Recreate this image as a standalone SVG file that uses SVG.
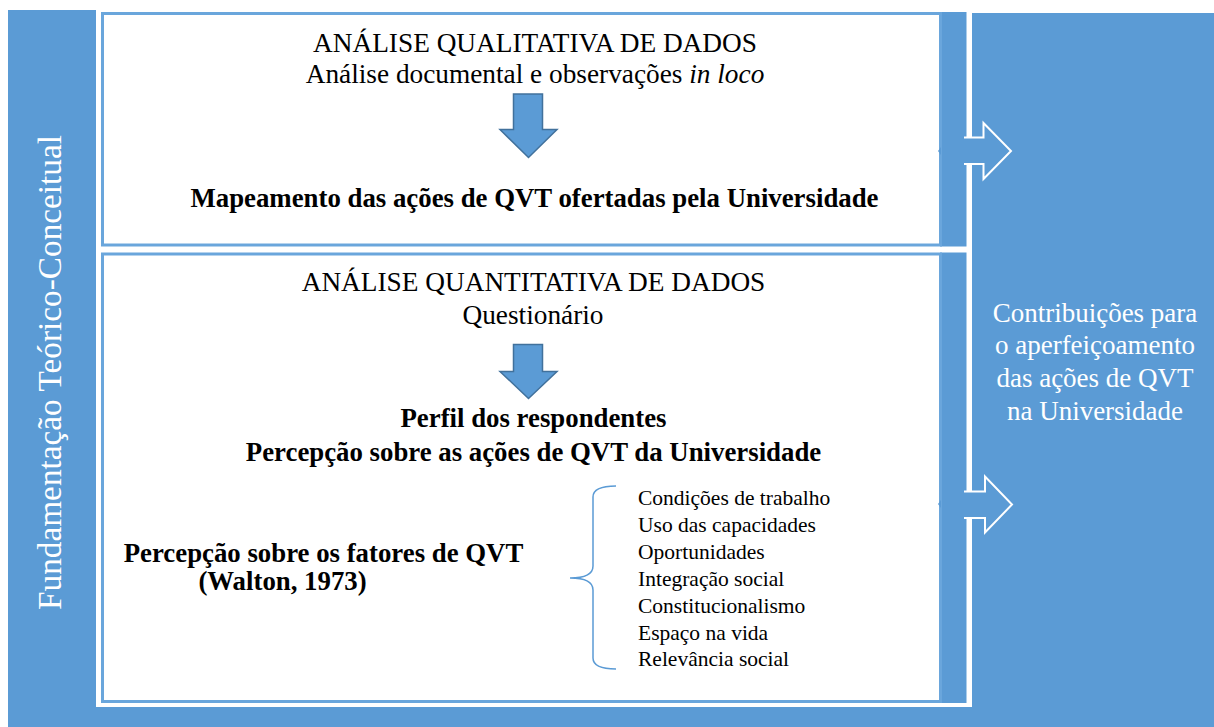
<svg xmlns="http://www.w3.org/2000/svg" width="1214" height="727" viewBox="0 0 1214 727">
<style>
.bg{fill:#5B9BD5}
.box{fill:#FFFFFF;stroke:#6AA6DC;stroke-width:3}
.t{font-family:"Liberation Serif","Times New Roman",serif;fill:#000;text-anchor:middle}
.r{font-size:27.3px}
.b{font-weight:bold;font-size:26.8px}
.w{fill:#FFFFFF}
.li{font-family:"Liberation Serif","Times New Roman",serif;fill:#000;font-size:21.5px}
.down{fill:#5B9BD5;stroke:#41719C;stroke-width:1.5}
.right{fill:#5B9BD5;stroke:#FFFFFF;stroke-width:2}
.brace{fill:none;stroke:#5B9BD5;stroke-width:1.5}
</style>
<rect width="1214" height="727" fill="#FFFFFF"/>
<g id="fundamentacao">
<rect class="bg" x="8" y="10" width="88" height="717"/>
<text class="t w" font-size="33.3" transform="translate(61,372.5) rotate(-90)">Fundamentação Teórico-Conceitual</text>
</g>
<g id="contribuicoes">
<rect class="bg" x="972" y="13" width="242" height="714"/>
<rect class="bg" x="96" y="707" width="876" height="20"/>
<text class="t w" font-size="27" x="1095" y="322">Contribuições para</text>
<text class="t w" font-size="27" x="1095" y="354">o aperfeiçoamento</text>
<text class="t w" font-size="27" x="1095" y="387">das ações de QVT</text>
<text class="t w" font-size="27" x="1095" y="420">na Universidade</text>
</g>
<g id="qualitativa">
<rect class="bg" x="940" y="12" width="26.5" height="234.5"/>
<rect class="box" x="102.5" y="13.5" width="838" height="231.5"/>
<text class="t r" x="535" y="51.5">ANÁLISE QUALITATIVA DE DADOS</text>
<text class="t r" x="535" y="83">Análise documental e observações <tspan font-style="italic">in loco</tspan></text>
<path class="down" d="M513.5,94 H542.5 V129.5 H557 L528.5,157.5 L500,129.5 H513.5 Z"/>
<text class="t b" x="534.5" y="206.5">Mapeamento das ações de QVT ofertadas pela Universidade</text>
</g>
<g id="quantitativa">
<rect class="bg" x="940" y="252.5" width="26.5" height="450.5"/>
<rect class="box" x="102.5" y="254" width="838" height="447.5"/>
<text class="t r" x="533.5" y="290.5">ANÁLISE QUANTITATIVA DE DADOS</text>
<text class="t r" x="533" y="324">Questionário</text>
<path class="down" d="M513.5,344.5 H542.5 V371.5 H557 L528.5,398.5 L500,371.5 H513.5 Z"/>
<text class="t b" x="533.5" y="427">Perfil dos respondentes</text>
<text class="t b" x="533.5" y="461">Percepção sobre as ações de QVT da Universidade</text>
<text class="t b" x="323.5" y="562">Percepção sobre os fatores de QVT</text>
<text class="t b" x="282.5" y="590">(Walton, 1973)</text>
<path class="brace" d="M616,486 Q593,486 593,497 V566 Q593,578 570,578 Q593,578 593,590 V658 Q593,669 616,669"/>
<text class="li" x="638" y="505">Condições de trabalho</text>
<text class="li" x="638" y="532">Uso das capacidades</text>
<text class="li" x="638" y="559">Oportunidades</text>
<text class="li" x="638" y="585.5">Integração social</text>
<text class="li" x="638" y="612.5">Constitucionalismo</text>
<text class="li" x="638" y="639.5">Espaço na vida</text>
<text class="li" x="638" y="666">Relevância social</text>
</g>
<g id="connectors">
<path class="bg" d="M941,147 L938,151 L941,155 Z"/>
<path class="right" d="M964,137.5 H983.5 V123 L1011,151 L983.5,179 V164 H964"/>
<path class="bg" d="M941,500 L938,504 L941,508 Z"/>
<path class="right" d="M964,491.5 H985 V476.5 L1012,504.5 L985,532.5 V518 H964"/>
</g>
</svg>
